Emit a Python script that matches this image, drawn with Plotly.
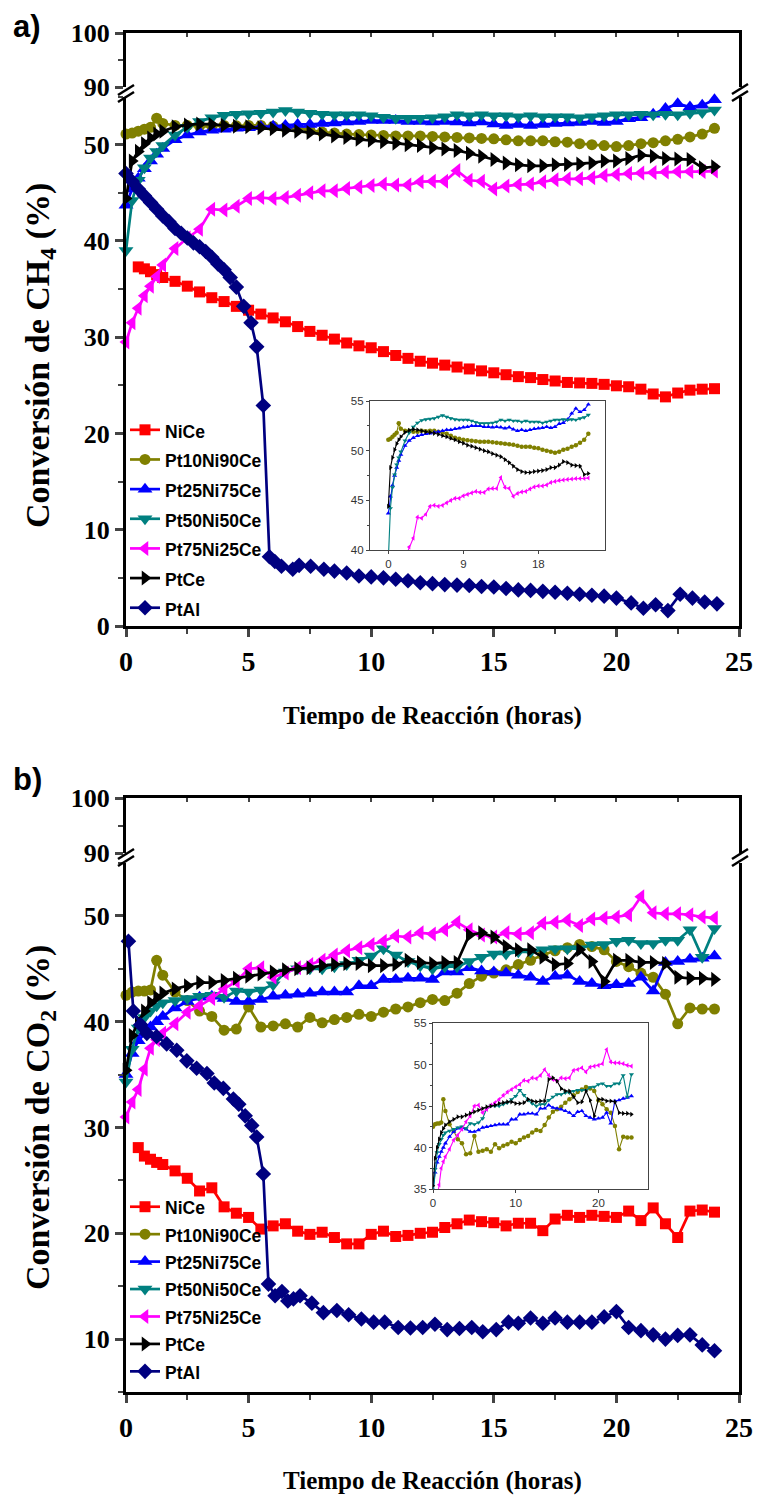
import plotly.graph_objects as go

W, H = 757, 1498

# Sampling times (hours) shared by most catalysts
t_grid = [0, 0.25, 0.5, 0.75, 1, 1.25, 1.5,
          2, 2.5, 3, 3.5, 4, 4.5, 5, 5.5, 6, 6.5,
          7, 7.5, 8, 8.5, 9, 9.5, 10, 10.5, 11, 11.5,
          12, 12.5, 13, 13.5, 14, 14.5, 15, 15.5, 16, 16.5,
          17, 17.5, 18, 18.5, 19, 19.5, 20, 20.5, 21, 21.5,
          22, 22.5, 23, 23.5, 24]
t_nice = t_grid[2:]

# ---------------- CH4 conversion (%) ----------------
ch4_nice = [37.3, 37.1, 36.8, 36.5, 36.2,
            35.8, 35.3, 34.7, 34.1, 33.7, 33.2, 32.8, 32.4, 32.0, 31.6,
            31.1, 30.6, 30.2, 29.8, 29.4, 29.1, 28.9, 28.5, 28.1, 27.8,
            27.5, 27.3, 27.1, 26.9, 26.7, 26.5, 26.3, 26.1, 25.9, 25.8,
            25.6, 25.45, 25.3, 25.25, 25.2, 25.1, 24.95, 24.85, 24.6, 24.1,
            23.8, 24.2, 24.5, 24.6, 24.65]
ch4_pt10 = [51.1, 51.2, 51.4, 51.6, 51.8, 52.75, 52.2,
            52.0, 52.0, 51.9, 51.9, 52.0, 51.95, 52.0, 52.0, 51.9, 51.8,
            51.7, 51.5, 51.3, 51.2, 51.1, 51.05, 51.0, 50.95, 50.9, 50.9,
            50.9, 50.85, 50.8, 50.75, 50.7, 50.65, 50.6, 50.5, 50.4, 50.4,
            50.4, 50.3, 50.25, 50.1, 50.0, 49.9, 49.8, 49.9, 50.1, 50.2,
            50.4, 50.55, 50.8, 51.1, 51.7]
ch4_pt25 = [43.7, 45.4, 46.5, 47.5, 48.3, 49.0, 49.6,
            50.5, 51.0, 51.3, 51.5, 51.6, 51.7, 51.75, 51.85, 51.9, 52.0,
            52.1, 52.1, 52.2, 52.25, 52.35, 52.4, 52.5, 52.5, 52.5, 52.4,
            52.4, 52.35, 52.4, 52.35, 52.25, 52.35, 52.15, 52.0, 52.1, 52.0,
            52.1, 52.2, 52.25, 52.3, 52.4, 52.3, 52.4, 52.7, 52.8, 53.15,
            53.75, 54.25, 53.9, 54.1, 54.65]
ch4_pt50 = [39.0, 44.2, 46.3, 47.6, 48.6, 49.3, 49.9,
            51.0, 51.8, 52.4, 52.8, 53.05, 53.15, 53.2, 53.25, 53.4, 53.55,
            53.4, 53.25, 53.15, 53.1, 53.1, 53.1, 53.0, 52.85, 52.75, 52.75,
            52.75, 52.8, 52.9, 53.1, 53.0, 53.1, 53.0, 53.0, 52.9, 53.0,
            52.9, 52.9, 52.9, 52.8, 52.9, 53.0, 53.1, 53.1, 53.15, 53.1,
            53.15, 53.1, 53.25, 53.35, 53.6]
ch4_pt75 = [29.5, 31.5, 33.0, 34.3, 35.3, 36.3, 37.5,
            39.2, 40.3, 41.2, 43.3, 43.2, 43.6, 44.4, 44.5, 44.4, 44.5,
            44.75, 45.0, 45.2, 45.2, 45.45, 45.6, 45.75, 45.9, 45.8, 45.8,
            46.15, 46.2, 46.2, 47.3, 46.3, 46.2, 45.4, 45.7, 45.85, 45.9,
            46.15, 46.35, 46.45, 46.45, 46.55, 46.8, 46.9, 47.0, 47.05, 47.1,
            47.15, 47.2, 47.2, 47.2, 47.25]
ch4_ptce = [44.4, 48.3, 49.3, 50.1, 50.7, 51.1, 51.4,
            51.85, 52.05, 52.15, 52.1, 52.0, 51.9, 51.85, 51.75, 51.65, 51.5,
            51.4, 51.25, 51.1, 50.9, 50.75, 50.55, 50.45, 50.3, 50.15, 50.0,
            49.9, 49.7, 49.55, 49.4, 49.1, 48.8, 48.45, 48.1, 47.9, 47.8,
            47.8, 47.9, 47.95, 48.0, 48.1, 48.3, 48.3, 48.55, 48.9, 48.8,
            48.55, 48.5, 48.45, 47.6, 47.7]
t_ptal_ch4 = [0, 0.25, 0.5, 0.75, 1, 1.25, 1.5, 1.75, 2, 2.25,
              2.5, 2.75, 3, 3.25, 3.5, 3.75, 4, 4.25, 4.5, 4.8,
              5.1, 5.33, 5.6, 5.85, 6.07, 6.34, 6.8, 7.06, 7.53, 8.07,
              8.5, 9, 9.5, 10, 10.5, 11, 11.5, 12, 12.5, 13,
              13.5, 14, 14.5, 15, 15.5, 16, 16.5, 17, 17.5, 18,
              18.5, 19, 19.5, 20, 20.6, 21.1, 21.6, 22.1, 22.6, 23.1,
              23.6, 24.1]
ch4_ptal = [47.0, 46.2, 45.4, 44.7, 44.0, 43.3, 42.6, 42.0, 41.3, 40.8,
            40.3, 39.8, 39.4, 38.9, 38.3, 37.6, 37.0, 36.2, 35.2, 33.2,
            31.5, 29.0, 22.9, 7.2, 6.7, 6.2, 5.9, 6.3, 6.2, 5.9,
            5.7, 5.5, 5.2, 5.1, 5.0, 4.85, 4.7, 4.5, 4.4, 4.3,
            4.25, 4.2, 4.1, 4.05, 3.9, 3.75, 3.7, 3.6, 3.5, 3.4,
            3.3, 3.2, 3.1, 2.9, 2.4, 1.85, 2.2, 1.6, 3.3, 2.9,
            2.5, 2.3]

# ---------------- CO2 conversion (%) ----------------
co2_nice = [28.1, 27.3, 27.0, 26.7, 26.5,
            25.9, 25.2, 24.0, 24.3, 22.5, 21.9, 21.5, 20.4, 20.7, 20.9,
            20.2, 19.9, 20.1, 19.6, 19.0, 19.0, 19.9, 20.2, 19.7, 19.8,
            20.0, 20.1, 20.55, 20.9, 21.25, 21.1, 21.0, 20.7, 20.95, 20.95,
            20.25, 21.35, 21.7, 21.5, 21.7, 21.6, 21.5, 22.1, 21.2, 22.4,
            20.9, 19.6, 22.1, 22.2, 22.0]
co2_pt10 = [42.5, 42.8, 42.9, 42.9, 43.0, 45.8, 44.4,
            42.8, 42.0, 41.0, 40.5, 39.2, 39.3, 41.4, 39.5, 39.6, 39.8,
            39.5, 40.4, 39.9, 40.2, 40.4, 40.7, 40.5, 40.9, 41.2, 41.4,
            41.8, 42.1, 42.0, 42.7, 43.6, 44.3, 44.6, 44.9, 45.4, 45.8,
            46.3, 46.7, 47.0, 47.3, 47.1, 46.8, 45.7, 45.2, 44.6, 44.2,
            42.6, 39.8, 41.3, 41.2, 41.2]
co2_pt25 = [35.0, 37.0, 38.2, 38.9, 39.5, 40.0, 40.5,
            41.3, 41.9, 42.3, 42.4, 42.2, 41.9, 41.9, 42.1, 42.4, 42.5,
            42.6, 42.7, 42.8, 42.8, 42.8, 43.4, 43.4, 44.0, 44.0, 44.1,
            44.1, 44.0, 44.7, 44.7, 45.1, 44.8, 44.7, 44.6, 44.4, 44.2,
            43.8, 44.3, 44.4, 43.8, 43.6, 43.4, 43.5, 43.6, 44.2, 42.9,
            45.6, 45.7, 45.9, 46.0, 46.2]
co2_pt50 = [34.3, 37.4, 39.4, 40.4, 41.0, 41.5, 41.8,
            42.0, 42.2, 42.4, 42.5, 42.3, 42.9, 42.8, 43.0, 43.5, 44.7,
            45.0, 45.0, 45.0, 45.2, 45.4, 45.8, 46.2, 46.9, 46.3, 45.7,
            45.3, 45.0, 45.2, 45.2, 45.7, 46.1, 46.4, 46.4, 46.6, 46.6,
            46.8, 46.9, 46.9, 46.9, 47.25, 47.3, 47.6, 47.7, 47.4, 47.4,
            47.7, 47.7, 48.7, 46.1, 48.8]
co2_pt75 = [31.0, 32.4, 33.6, 35.5, 37.5, 38.3, 38.9,
            39.8, 40.9, 41.5, 42.2, 43.1, 43.8, 45.0, 45.1, 44.2, 44.6,
            45.1, 45.4, 45.8, 46.3, 46.7, 47.0, 47.3, 47.6, 48.1, 48.0,
            48.4, 48.3, 48.7, 49.4, 48.7, 48.2, 48.0, 48.4, 48.3, 48.4,
            49.3, 49.4, 49.6, 49.1, 49.7, 49.8, 49.9, 50.1, 51.8, 50.3,
            50.2, 50.2, 50.1, 49.9, 49.8]
co2_ptce = [35.4, 38.7, 40.0, 41.0, 41.8, 42.3, 42.7,
            43.1, 43.4, 43.7, 43.7, 43.9, 44.1, 44.3, 44.5, 44.7, 44.9,
            45.0, 45.1, 45.3, 45.4, 45.5, 45.5, 45.3, 45.3, 45.4, 45.8,
            45.6, 45.5, 45.6, 45.6, 48.2, 48.4, 48.0, 47.1, 46.8, 46.8,
            46.1, 45.4, 45.5, 46.8, 45.7, 43.8, 45.8, 45.8, 45.6, 45.6,
            45.5, 44.2, 44.1, 44.1, 44.0]
t_ptal_co2 = [0.1, 0.3, 0.6, 0.85, 1.25, 1.66, 2.07, 2.48, 2.88, 3.3,
              3.6, 3.97, 4.38, 4.6, 4.86, 5.13, 5.33, 5.6, 5.81, 6.08,
              6.36, 6.6, 6.83, 7.1, 7.58, 8.05, 8.6, 9.08, 9.6, 10.1,
              10.55, 11.1, 11.6, 12.1, 12.6, 13.1, 13.6, 14.1, 14.55, 15.1,
              15.6, 16.0, 16.5, 17.0, 17.5, 18.0, 18.5, 19.0, 19.5, 20.0,
              20.5, 21.0, 21.5, 22.0, 22.5, 23.0, 23.5, 24.0]
co2_ptal = [47.6, 41.0, 39.7, 38.9, 38.6, 37.9, 37.3, 36.3, 35.6, 35.1,
            34.2, 33.7, 32.7, 32.2, 31.1, 30.2, 29.1, 25.6, 15.2, 14.1,
            14.5, 13.6, 13.8, 14.1, 13.4, 12.5, 12.7, 12.3, 11.9, 11.6,
            11.6, 11.1, 11.05, 11.1, 11.4, 10.9, 11.0, 11.1, 10.7, 10.9,
            11.6, 11.5, 12.0, 11.5, 12.0, 11.6, 11.6, 11.6, 12.1, 12.6,
            11.1, 10.8, 10.4, 10.0, 10.35, 10.4, 9.45, 8.9]

names = ["NiCe", "Pt10Ni90Ce", "Pt25Ni75Ce", "Pt50Ni50Ce", "Pt75Ni25Ce", "PtCe", "PtAl"]
colors = ["#FF0000", "#808000", "#0000FF", "#008080", "#FF00FF", "#000000", "#000080"]
symbols = ["square", "circle", "triangle-up", "triangle-down", "triangle-left",
           "triangle-right", "diamond"]
sizes = [11, 11, 13, 13, 13, 13, 12]

panel_ch4 = [(t_nice, ch4_nice), (t_grid, ch4_pt10), (t_grid, ch4_pt25), (t_grid, ch4_pt50),
             (t_grid, ch4_pt75), (t_grid, ch4_ptce), (t_ptal_ch4, ch4_ptal)]
panel_co2 = [(t_nice, co2_nice), (t_grid, co2_pt10), (t_grid, co2_pt25), (t_grid, co2_pt50),
             (t_grid, co2_pt75), (t_grid, co2_ptce), (t_ptal_co2, co2_ptal)]

SERIF = "Liberation Serif, Times New Roman, serif"
SANS = "Liberation Sans, Arial, sans-serif"


def px_x(x):
    return x / W


def px_y(y):
    return 1 - y / H


def legend_label(name):
    # compact label text; row pitch comes from the legend font size
    return f'<span style="font-size:17.5px">{name}</span>'


fig = go.Figure()

# main panels: each series is drawn on the lower segment (0-55 %) and on the
# upper segment (90-100 %) of the broken y axis; only in-range points show
for data, xa, ya, xu, yu, leg in [(panel_ch4, "x", "y", "x2", "y2", "legend"),
                                  (panel_co2, "x3", "y3", "x4", "y4", "legend2")]:
    for i, (tt, vv) in enumerate(data):
        fig.add_trace(go.Scatter(
            x=tt, y=vv, name=legend_label(names[i]), mode="lines+markers",
            line=dict(color=colors[i], width=2.7),
            marker=dict(symbol=symbols[i], size=sizes[i], color=colors[i]),
            xaxis=xa, yaxis=ya, legend=leg, cliponaxis=False))
    for i, (tt, vv) in enumerate(data):
        fig.add_trace(go.Scatter(
            x=tt, y=vv, name=names[i], mode="lines+markers", showlegend=False,
            line=dict(color=colors[i], width=2.7),
            marker=dict(symbol=symbols[i], size=sizes[i], color=colors[i]),
            xaxis=xu, yaxis=yu, cliponaxis=True, hoverinfo="skip"))

# insets (supported catalysts only)
for data, xa, ya in [(panel_ch4, "x5", "y5"), (panel_co2, "x6", "y6")]:
    for i in range(1, 6):
        tt, vv = data[i]
        fig.add_trace(go.Scatter(
            x=tt, y=vv, name=names[i], mode="lines+markers", showlegend=False,
            line=dict(color=colors[i], width=1.1),
            marker=dict(symbol=symbols[i], size=4.5, color=colors[i]),
            xaxis=xa, yaxis=ya))

tick_font = dict(family=SERIF, size=26, color="black", weight="bold")
xdom = [px_x(126), px_x(739)]

common_line = dict(showline=True, linecolor="black", showgrid=False, zeroline=False,
                   automargin=False)


def lower_x(anchor):
    return dict(domain=xdom, anchor=anchor, range=[0, 25], tick0=0, dtick=5,
                ticks="outside", ticklen=8, tickwidth=2.5, linewidth=3,
                minor=dict(dtick=2.5, ticks="outside", ticklen=5, tickwidth=2),
                tickfont=dict(family=SERIF, size=28, color="black", weight="bold"),
                **common_line)


def upper_x(anchor):
    return dict(domain=xdom, anchor=anchor, range=[0, 25], side="top", dtick=2.5,
                ticks="inside", ticklen=4, tickwidth=1.5, linewidth=2.5,
                showticklabels=False, **common_line)


def lower_y(anchor, dom, rng, tick0):
    return dict(domain=dom, anchor=anchor, range=rng, tick0=tick0, dtick=10,
                ticks="outside", ticklen=8, tickwidth=2.5, linewidth=3, mirror=True,
                minor=dict(dtick=5, ticks="outside", ticklen=5, tickwidth=2),
                tickfont=tick_font, **common_line)


def upper_y(anchor, dom):
    return dict(domain=dom, anchor=anchor, range=[90, 100], tickvals=[90, 100],
                ticks="outside", ticklen=8, tickwidth=2.5, linewidth=3, mirror=True,
                minor=dict(tickvals=[95], ticks="outside", ticklen=5, tickwidth=2),
                tickfont=tick_font, **common_line)


inset_font = dict(family=SANS, size=11.5, color="#333333")


def inset_x(anchor, dom, rng, vals):
    return dict(domain=dom, anchor=anchor, range=rng, tickvals=vals, ticks="outside",
                ticklen=3, tickwidth=1, linewidth=1.2, linecolor="#444444", mirror=True,
                showline=True, showgrid=False, zeroline=False, automargin=False,
                tickfont=inset_font)


def inset_y(anchor, dom, rng):
    return dict(domain=dom, anchor=anchor, range=rng, dtick=5, ticks="outside",
                ticklen=3, tickwidth=1, linewidth=1.2, linecolor="#444444", mirror=True,
                minor=dict(dtick=2.5, ticks="outside", ticklen=2),
                showline=True, showgrid=False, zeroline=False, automargin=False,
                tickfont=inset_font)


fig.update_layout(
    template="none",
    width=W, height=H, autosize=False,
    margin=dict(l=0, r=0, t=0, b=0, pad=0, autoexpand=False),
    plot_bgcolor="white", paper_bgcolor="white",
    xaxis=lower_x("y"),
    yaxis=lower_y("x", [px_y(626), px_y(96.5)], [0, 55], 0),
    xaxis2=upper_x("y2"),
    yaxis2=upper_y("x2", [px_y(87), px_y(33)]),
    xaxis3=lower_x("y3"),
    yaxis3=lower_y("x3", [px_y(1392), px_y(863)], [5, 55], 10),
    xaxis4=upper_x("y4"),
    yaxis4=upper_y("x4", [px_y(853), px_y(798)]),
    xaxis5=inset_x("y5", [px_x(370), px_x(605)], [-2.2, 26], [0, 9, 18]),
    yaxis5=inset_y("x5", [px_y(550), px_y(401)], [40, 55]),
    xaxis6=inset_x("y6", [px_x(433), px_x(648)], [0, 26], [0, 10, 20]),
    yaxis6=inset_y("x6", [px_y(1189), px_y(1023)], [35, 55]),
    legend=dict(x=px_x(125), y=px_y(410), xanchor="left", yanchor="top",
                bgcolor="rgba(0,0,0,0)", itemwidth=30, tracegroupgap=0, borderwidth=0,
                font=dict(family=SANS, size=20.5, color="black", weight="bold")),
    legend2=dict(x=px_x(125), y=px_y(1188), xanchor="left", yanchor="top",
                 bgcolor="rgba(0,0,0,0)", itemwidth=30, tracegroupgap=0, borderwidth=0,
                 font=dict(family=SANS, size=18.8, color="black", weight="bold")),
)

title_font = dict(family=SERIF, size=25, color="black", weight="bold")
ytitle_font = dict(family=SERIF, size=34, color="black", weight="bold")
label_font = dict(family=SANS, size=31, color="black", weight="bold")

annotations = [
    dict(text="a)", x=px_x(27), y=px_y(27), font=label_font),
    dict(text="b)", x=px_x(27), y=px_y(779), font=label_font),
    dict(text="Tiempo de Reacción (horas)", x=px_x(432), y=px_y(716), font=title_font),
    dict(text="Tiempo de Reacción (horas)", x=px_x(432), y=px_y(1481), font=title_font),
    dict(text="Conversión de CH<sub>4</sub> (%)", x=px_x(40), y=px_y(356),
         textangle=-90, font=ytitle_font),
    dict(text="Conversión de CO<sub>2</sub> (%)", x=px_x(40), y=px_y(1118),
         textangle=-90, font=ytitle_font),
]
for a in annotations:
    a.update(xref="paper", yref="paper", showarrow=False, xanchor="center", yanchor="middle")
fig.update_layout(annotations=annotations)

# axis-break marks on both sides of each panel
breaks = [(118, 134, 95, 85), (118, 134, 102, 92),
          (732, 748, 94, 84), (732, 748, 101, 91),
          (118, 134, 859, 849), (118, 134, 866, 856),
          (732, 748, 859, 849), (732, 748, 866, 856)]
for x0, x1, y0, y1 in breaks:
    fig.add_shape(type="line", xref="paper", yref="paper",
                  x0=px_x(x0), x1=px_x(x1), y0=px_y(y0), y1=px_y(y1),
                  line=dict(color="black", width=2.5))

fig.write_html("out.html")
